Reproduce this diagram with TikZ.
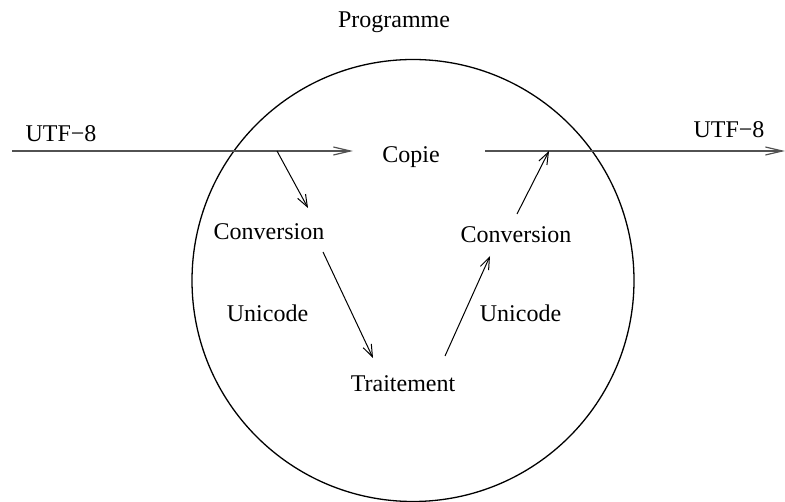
\documentclass[tikz,border=0pt]{standalone}
\usepackage{fontspec}
\setmainfont{Liberation Serif}
\usetikzlibrary{arrows.meta}
\begin{document}
\begin{tikzpicture}[x=1pt,y=-1pt,
  lbl/.style={font=\fontsize{24}{28}\selectfont, inner sep=0pt, anchor=base},
  flow/.style={draw=black!68, line width=1.8pt, -{Straight Barb[length=17pt,width=8pt,line width=1.2pt]}},
  conv/.style={draw=black, line width=1pt, -{Straight Barb[length=12pt,width=9pt,line width=1pt]}}]
\useasboundingbox (0,0) rectangle (785,502);

% program boundary
\node[circle, draw, line width=1.3pt, minimum size=442pt, inner sep=0pt] (prog) at (413,280.5) {};

% labels
\node[lbl] (title) at (394,28) {Programme};
\node[lbl] (inlbl) at (61,142) {UTF\symbol{"2212}8};
\node[lbl] (outlbl) at (729,138) {UTF\symbol{"2212}8};
\node[lbl] (copie) at (411,163) {Copie};
\node[lbl] (convA) at (269,240) {Conversion};
\node[lbl] (uniA) at (267.5,322) {Unicode};
\node[lbl] (trait) at (403,392) {Traitement};
\node[lbl] (convB) at (516,243) {Conversion};
\node[lbl] (uniB) at (520.5,322) {Unicode};

% endpoints of the data streams
\coordinate (inS) at (12,151);
\coordinate (inE) at (353,151);
\coordinate (outS) at (485,151);
\coordinate (outE) at (785,151);
\coordinate (split) at (277,151);
\coordinate (splitE) at (308,208);
\coordinate (aS) at (323,252);
\coordinate (aE) at (373,358);
\coordinate (bS) at (445,356);
\coordinate (bE) at (490,256);
\coordinate (cS) at (517,214);
\coordinate (merge) at (549,151);

% streams and conversions
\draw[flow] (inS) -- (inE);
\draw[flow] (outS) -- (outE);
\draw[conv] (split) -- (splitE);
\draw[conv] (aS) -- (aE);
\draw[conv] (bS) -- (bE);
\draw[conv] (cS) -- (merge);
\end{tikzpicture}
\end{document}
